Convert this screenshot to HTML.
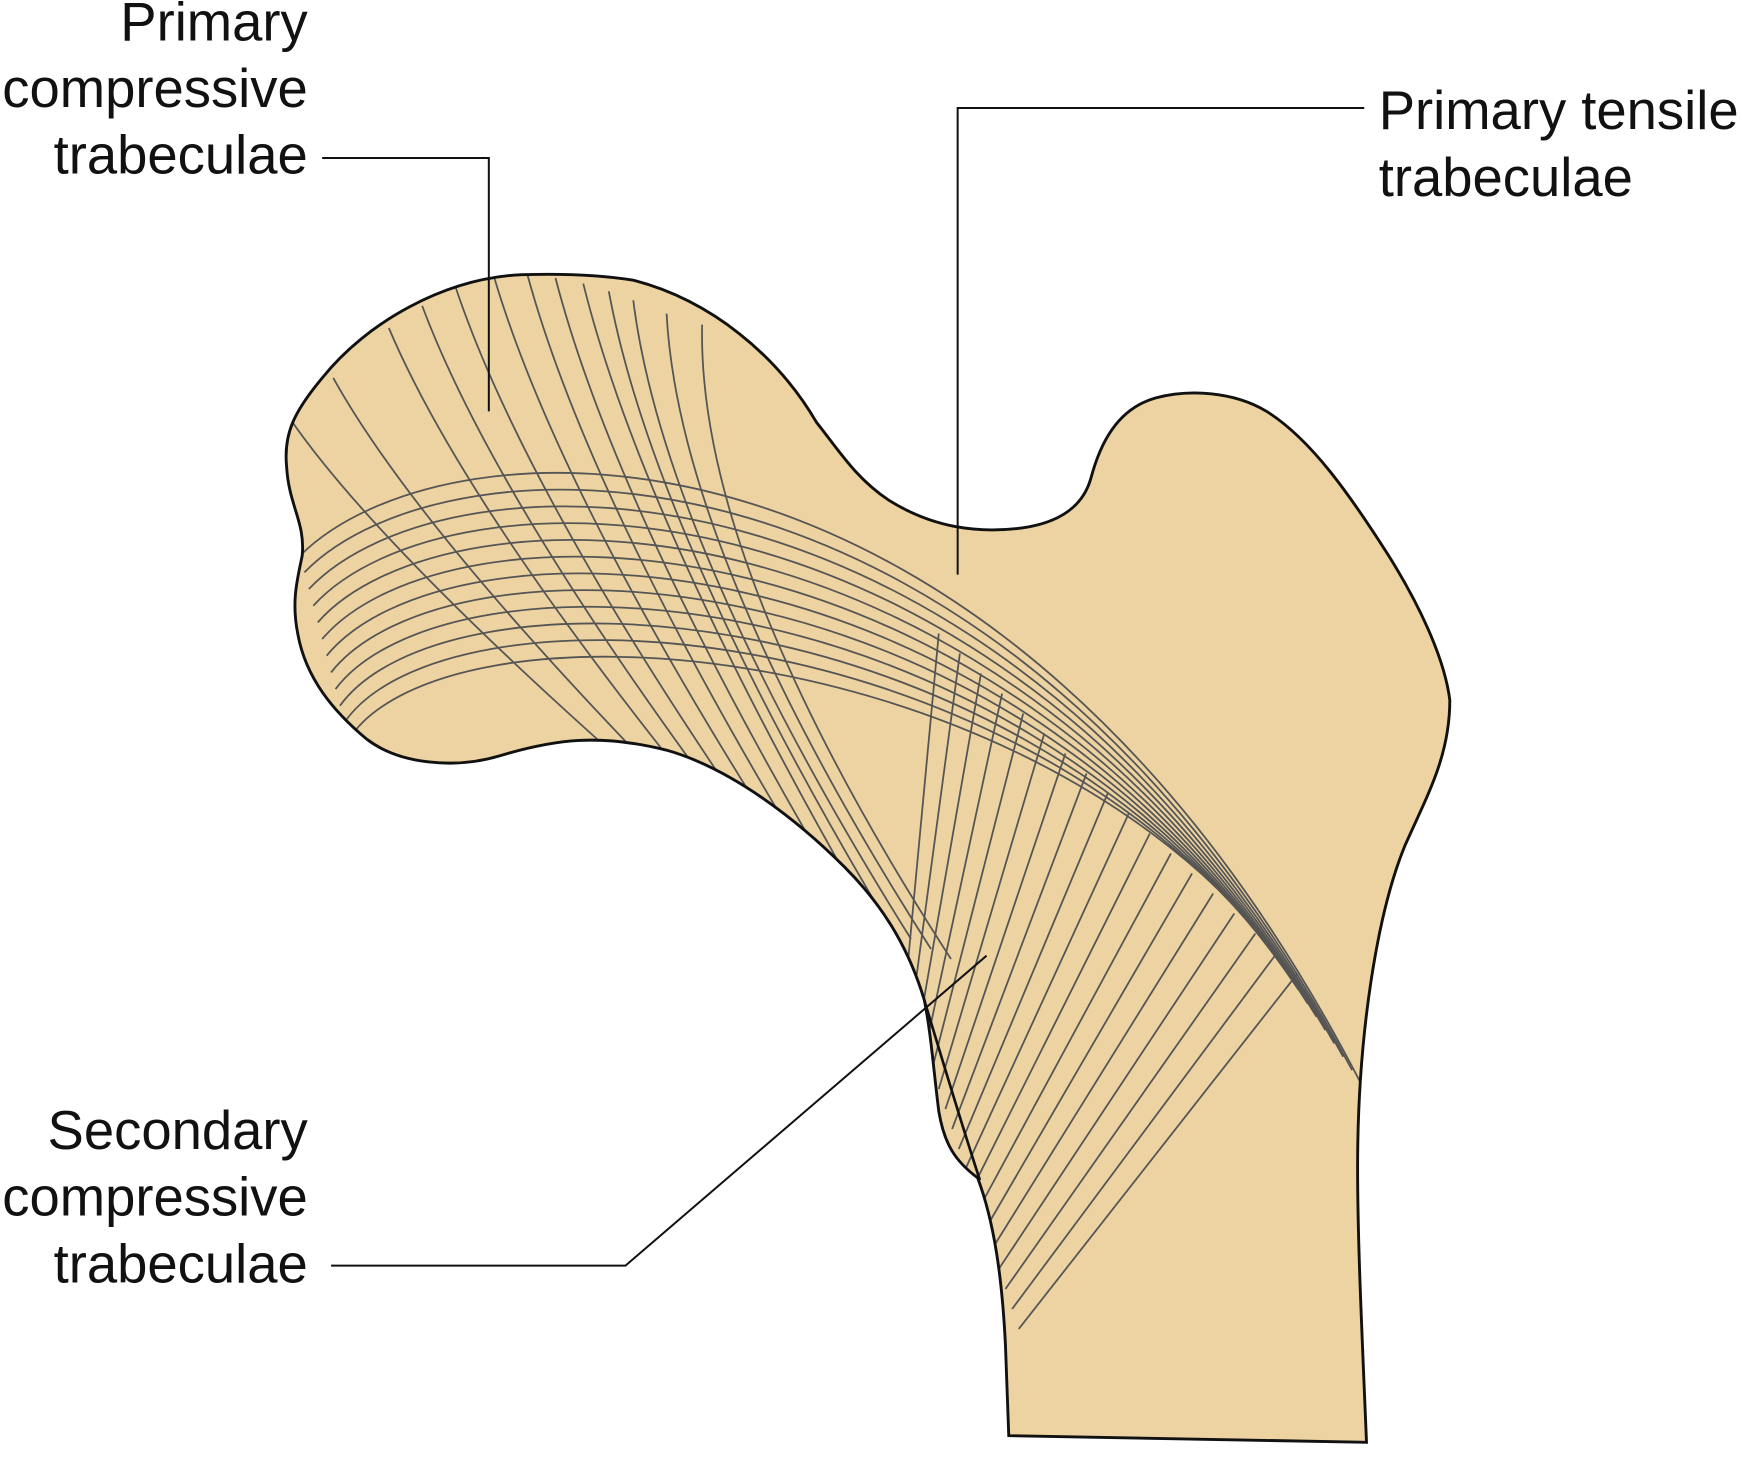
<!DOCTYPE html>
<html><head><meta charset="utf-8"><style>
html,body{margin:0;padding:0;background:#fff;}
svg{display:block;}
text{font-family:"Liberation Sans",sans-serif;font-size:49px;fill:#111;}
</style></head><body>
<svg width="1742" height="1457" viewBox="0 0 1568 1311" xmlns="http://www.w3.org/2000/svg">
<defs><clipPath id="bone"><path id="bp" d="M470,247 C400,250 330,290 290,340 C265,370 255,390 258,420 C260,455 275,470 272,500 C268,520 262,540 268,570 C275,610 300,640 330,665 C360,688 410,692 450,680 C500,665 540,660 600,675 C660,692 720,740 760,780 C800,820 820,860 832,900 C838,930 840,960 845,1000 C850,1030 860,1045 880,1060 C895,1100 902,1150 905,1210 L908,1292 L1230,1298 C1226,1200 1222,1120 1222,1050 C1222,930 1240,820 1265,760 C1285,715 1305,680 1305,630 C1300,590 1275,540 1250,500 C1215,445 1180,395 1140,370 C1110,352 1070,350 1040,358 C1005,368 990,400 982,430 C975,455 955,470 920,475 C880,480 840,475 800,450 C770,430 755,405 735,380 C700,320 640,270 570,252 C540,247 505,246 470,247 Z"/></clipPath></defs>
<use href="#bp" fill="#EDD3A1"/>
<g clip-path="url(#bone)" fill="none" stroke="#555" stroke-width="1.6" id="tr"></g>
<use href="#bp" fill="none" stroke="#111" stroke-width="2.6"/>
<path d="M832,900 C850,960 865,1010 882,1062" fill="none" stroke="#111" stroke-width="2.4"/>
<g stroke="#111" stroke-width="1.8" fill="none">
<polyline points="290,142 440,142 440,370"/>
<polyline points="1228,97 862,97 862,517"/>
<polyline points="298,1139 563,1139 888,860"/>
</g>
<text x="277" y="36" text-anchor="end">Primary</text>
<text x="277" y="96" text-anchor="end">compressive</text>
<text x="277" y="156" text-anchor="end">trabeculae</text>
<text x="1241" y="116">Primary tensile</text>
<text x="1241" y="176">trabeculae</text>
<text x="277" y="1034" text-anchor="end">Secondary</text>
<text x="277" y="1094" text-anchor="end">compressive</text>
<text x="277" y="1154" text-anchor="end">trabeculae</text>
</svg>
<script>
var g=document.getElementById('tr'),s='';
function P(d){s+='<path d="'+d+'"/>';}
var tops=[[262,378],[300,340],[350,295],[380,275],[410,258],[445,250],[475,248],[500,250],[525,255],[548,262],[570,270],[600,282],[632,292]];
for(var i=0;i<tops.length;i++){var t=tops[i];var ex=560+i*18,ey=665+i*9;
 var c1x=t[0]+(ex-t[0])*0.3+ (i>8?-(i-8)*12:0), c1y=t[1]+(ey-t[1])*0.45;
 P('M'+t[0]+','+t[1]+' Q'+c1x+','+c1y+' '+(ex+80)+','+(ey+90));}
for(var i=0;i<12;i++){
 var sx=270+i*4, sy=500+i*15;
 var ex=1225-i*8, ey=975-i*12;
 P('M'+sx+','+sy+' C400,'+(370+i*15)+' 900,'+(345+i*20)+' '+ex+','+ey);}
for(var i=0;i<18;i++){var sx=845+i*19, sy=570+i*18;
 var ex=815+i*6, ey=830+i*14;
 P('M'+sx+','+sy+' L'+ex+','+(ey+60+i*4));}
g.innerHTML=s;
</script>
</body></html>
